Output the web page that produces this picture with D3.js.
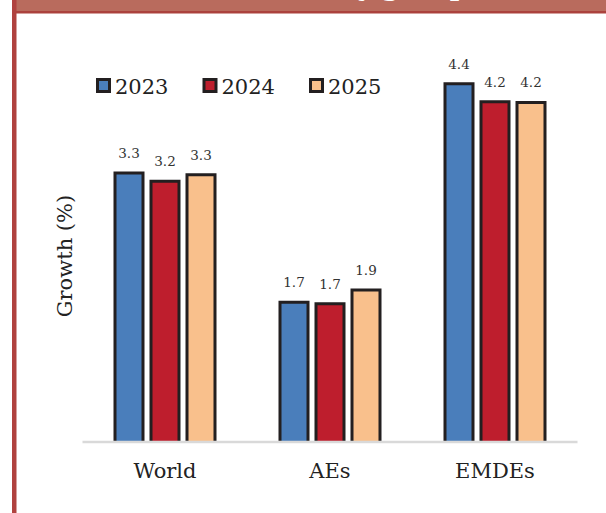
<!DOCTYPE html>
<html>
<head>
<meta charset="utf-8">
<script src="https://cdn.jsdelivr.net/npm/d3@7"></script>
<style>
  html, body { margin: 0; padding: 0; background: #fff; }
  svg { display: block; }
</style>
</head>
<body>
<svg id="chart" width="606" height="513"></svg>
<script>
// ---- data ----
const categories = ["World", "AEs", "EMDEs"];
const series = ["2023", "2024", "2025"];
const values2023 = [3.30, 1.71, 4.40];
const values2024 = [3.20, 1.69, 4.18];
const values2025 = [3.28, 1.86, 4.17];
const colors = ["#4a7ebb", "#be1e2d", "#f9c08c"];
const yLabel = "Growth (%)";
const bannerTitle = "Growth by group";

const seriesValues = [values2023, values2024, values2025];
const rows = categories.map((c, i) => ({
  cat: c,
  vals: series.map((s, j) => ({ s, j, v: seriesValues[j][i] }))
}));

const svg = d3.select("#chart");
const font = "'DejaVu Serif', 'Liberation Serif', serif";
const strokeCol = "#231f20";
const sw = 3;

// banner + frame
svg.append("rect").attr("x", 12).attr("y", 0).attr("width", 594).attr("height", 12)
  .attr("fill", "#b96b5d");
svg.append("text").attr("x", 468).attr("y", -4.5).attr("text-anchor", "end")
  .attr("font-family", font).attr("font-weight", "bold").attr("font-size", 26)
  .attr("fill", "#ffffff").text(bannerTitle);
svg.append("rect").attr("x", 12).attr("y", 11).attr("width", 594).attr("height", 2.5)
  .attr("fill", "#ab423d");
svg.append("rect").attr("x", 12).attr("y", 0).attr("width", 4.5).attr("height", 513)
  .attr("fill", "#b0423f");

// scales
const x0 = d3.scaleBand().domain(categories).range([82.5, 577.5]).padding(0);
const x1 = d3.scaleBand().domain(series).range([-51.5, 51.5]).paddingInner(5 / 36).paddingOuter(0);
const y = d3.scaleLinear().domain([0, 4.4]).range([441, 83.8]);

// bars
const groups = svg.append("g").selectAll("g").data(rows).join("g")
  .attr("transform", d => `translate(${x0(d.cat) + x0.bandwidth() / 2},0)`);

groups.selectAll("rect.bar").data(d => d.vals).join("rect")
  .attr("class", "bar")
  .attr("x", d => x1(d.s) + sw / 2)
  .attr("width", x1.bandwidth() - sw)
  .attr("y", d => y(d.v))
  .attr("height", d => y(0) - y(d.v))
  .attr("fill", d => colors[d.j]);

groups.selectAll("path.edge").data(d => d.vals).join("path")
  .attr("class", "edge")
  .attr("d", d => {
    const xl = x1(d.s) + sw / 2, xr = x1(d.s) + x1.bandwidth() - sw / 2;
    return `M${xl},${y(0)}V${y(d.v)}H${xr}V${y(0)}`;
  })
  .attr("fill", "none").attr("stroke", strokeCol).attr("stroke-width", sw)
  .attr("stroke-linejoin", "miter");

const fmt = d3.format(".1f");
groups.selectAll("text.val").data(d => d.vals).join("text")
  .attr("class", "val")
  .attr("x", d => x1(d.s) + x1.bandwidth() / 2)
  .attr("y", d => y(d.v) - 15)
  .attr("text-anchor", "middle")
  .attr("font-family", font).attr("font-size", 13.5).attr("fill", "#333")
  .text(d => fmt(d.v));

// baseline axis
svg.append("line").attr("x1", 82.5).attr("x2", 577.5).attr("y1", 442).attr("y2", 442)
  .attr("stroke", "#d9d9d9").attr("stroke-width", 2.5);

// category labels
const xAxis = d3.axisBottom(x0).tickSize(0).tickPadding(0);
const ax = svg.append("g").attr("transform", "translate(0,442)").call(xAxis);
ax.select(".domain").remove();
ax.selectAll("text").attr("font-family", font).attr("font-size", 21)
  .attr("fill", "#222").attr("dy", null).attr("y", 36);

// y label
svg.append("text")
  .attr("transform", "translate(72,256) rotate(-90)")
  .attr("text-anchor", "middle")
  .attr("font-family", font).attr("font-size", 21).attr("fill", "#222")
  .text(yLabel);

// legend
const lg = svg.append("g").selectAll("g").data(series).join("g")
  .attr("transform", (d, i) => `translate(${96 + i * 106.5},0)`);
lg.append("rect").attr("x", 1.5).attr("y", 79.5).attr("width", 12).attr("height", 12)
  .attr("fill", (d, i) => colors[i]).attr("stroke", strokeCol).attr("stroke-width", 3);
lg.append("text").attr("x", 19).attr("y", 94)
  .attr("font-family", font).attr("font-size", 21).attr("fill", "#222")
  .text(d => d);
</script>
</body>
</html>
